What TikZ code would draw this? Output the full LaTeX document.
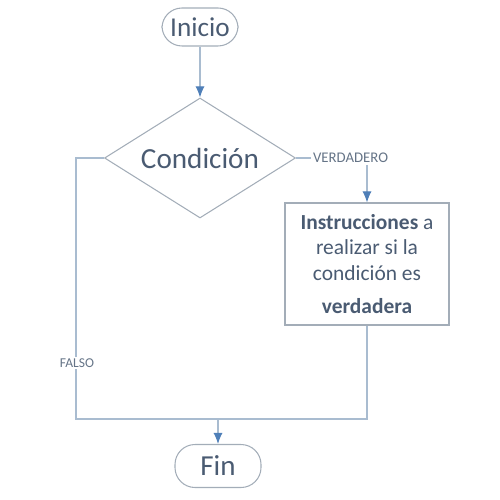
\documentclass[tikz,border=0pt]{standalone}
\usepackage{fontspec}
\setmainfont{Carlito}
\usetikzlibrary{shapes}
\usetikzlibrary{positioning}
\usetikzlibrary{arrows.meta}
\definecolor{txtcol}{HTML}{4A5B72}
\definecolor{lncol}{HTML}{A9BCD0}
\definecolor{arrcol}{HTML}{4F7FB8}
\definecolor{shpcol}{HTML}{A3ADB8}
\tikzset{
    terminal/.style = {rectangle, rounded corners=0.4cm, draw=shpcol, line width=0.6pt, text=txtcol, font=\fontsize{15.5}{18}\selectfont, inner sep=0pt},
    decision/.style = {diamond, aspect=1.59, draw=shpcol, line width=0.6pt, text=txtcol, font=\fontsize{16.6}{19}\selectfont, inner sep=0pt, minimum width=3.82cm, minimum height=2.4cm},
    process/.style = {rectangle, draw=shpcol, line width=0.6pt, text=txtcol, align=center, font=\fontsize{12.2}{14.6}\selectfont, minimum width=3.28cm, minimum height=2.44cm},
    tag/.style = {text=txtcol!85, font=\fontsize{8.4}{10}\selectfont, inner sep=1pt},
    flow/.style = {draw=lncol, line width=0.6pt},
    edgea/.style = {draw=lncol, line width=0.6pt, -{Latex[length=2.2mm,width=1.8mm,color=arrcol]}}
}
\begin{document}
\begin{tikzpicture}
  \useasboundingbox (0,0) rectangle (10,-10);
  % shapes
  \node[terminal, minimum width=1.52cm, minimum height=0.76cm] (inicio) at (4.0,-0.54) {Inicio};
  \node[decision] (cond) at (4.0,-3.16) {Condición};
  \node[process] (instr) at (7.34,-5.28) {\textbf{Instrucciones} a\\realizar si la\\condición es\\[0.15cm]\textbf{verdadera}};
  \node[terminal, minimum width=1.72cm, minimum height=0.86cm, font=\fontsize{16.5}{19}\selectfont] (fin) at (4.36,-9.32) {Fin};
  % labels and bends
  \node[tag, anchor=west] (verd) at (6.22,-3.16) {VERDADERO};
  \coordinate (up) at (1.52,-3.16);
  \coordinate (down) at (1.52,-8.38);
  \coordinate (merge) at (4.36,-8.38);

  \draw[edgea] (inicio) -- (cond.north);
  \draw[flow] (cond.east) -- (verd.west);
  \draw[edgea] (instr.north |- verd.south) -- (instr.north);
  \draw[flow] (cond.west) -- (up) -- (down) -- (instr.south |- down) -- (instr.south);
  \node[tag, fill=white, font=\fontsize{7.7}{9}\selectfont] (falso) at (1.54,-7.26) {FALSO};
  \draw[edgea] (merge) -- (fin.north);
\end{tikzpicture}
\end{document}
